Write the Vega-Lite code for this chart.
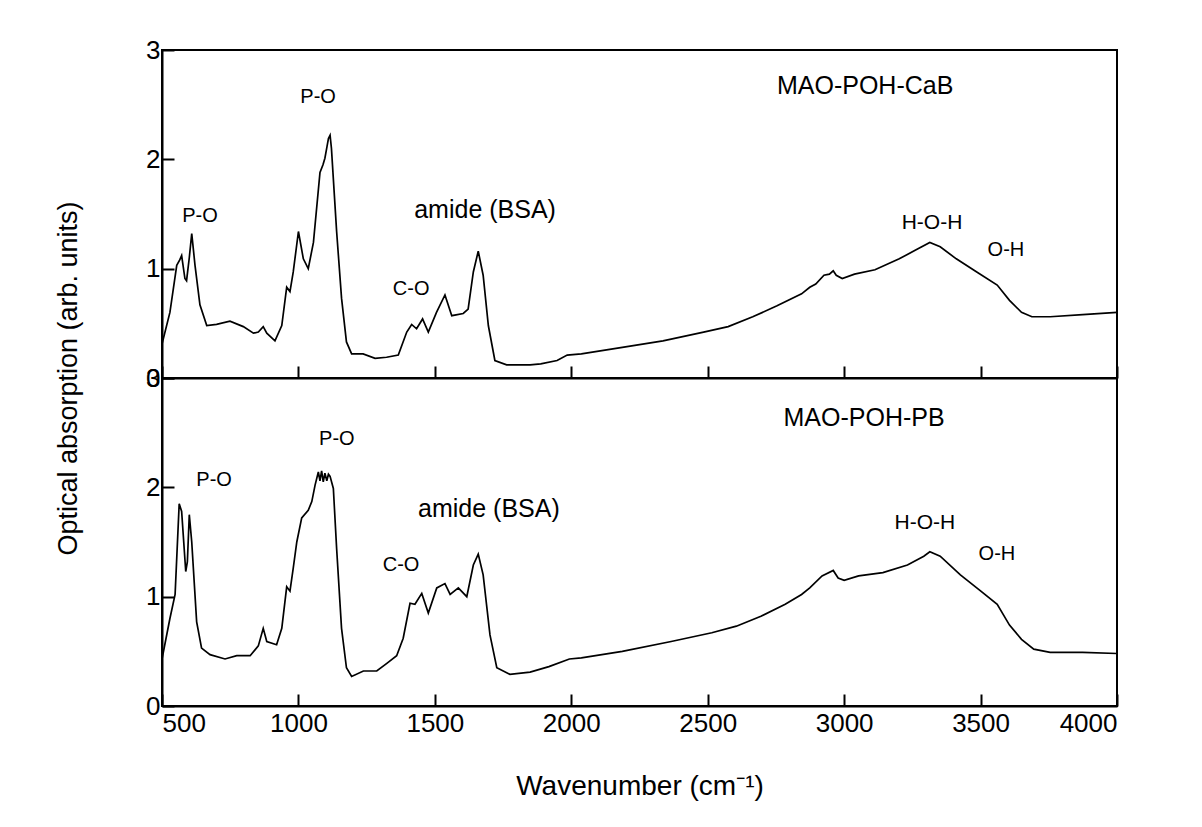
{
  "$schema": "https://vega.github.io/schema/vega-lite/v6.json",
  "background": "white",
  "padding": {"left": 53, "top": 36, "right": 10, "bottom": 10},
  "spacing": 0,
  "bounds": "flush",
  "config": {
    "font": "Liberation Sans",
    "view": {"stroke": "black", "strokeWidth": 2},
    "axis": {
      "grid": false,
      "domainColor": "black",
      "domainWidth": 2,
      "tickColor": "black",
      "tickWidth": 2,
      "tickSize": -12,
      "labelFont": "Liberation Sans",
      "labelFontSize": 26,
      "labelColor": "black",
      "titleFont": "Liberation Sans",
      "titleColor": "black",
      "titleFontWeight": "normal"
    }
  },
  "datasets": {
    "cab": [
      {"x": 500, "y": 0.31}, {"x": 529, "y": 0.6}, {"x": 554, "y": 1.03}, {"x": 565, "y": 1.08}, {"x": 572, "y": 1.12},
      {"x": 584, "y": 0.91}, {"x": 590, "y": 0.89}, {"x": 600, "y": 1.1}, {"x": 609, "y": 1.32}, {"x": 621, "y": 1.03},
      {"x": 639, "y": 0.67}, {"x": 664, "y": 0.48}, {"x": 700, "y": 0.49}, {"x": 749, "y": 0.52}, {"x": 798, "y": 0.47},
      {"x": 835, "y": 0.41}, {"x": 853, "y": 0.42}, {"x": 871, "y": 0.47}, {"x": 884, "y": 0.41}, {"x": 914, "y": 0.34},
      {"x": 939, "y": 0.48}, {"x": 957, "y": 0.83}, {"x": 969, "y": 0.79}, {"x": 981, "y": 0.97}, {"x": 1000, "y": 1.34},
      {"x": 1018, "y": 1.09}, {"x": 1036, "y": 1.0}, {"x": 1055, "y": 1.24}, {"x": 1079, "y": 1.88}, {"x": 1090, "y": 1.95},
      {"x": 1097, "y": 2.01}, {"x": 1105, "y": 2.12}, {"x": 1110, "y": 2.19}, {"x": 1116, "y": 2.22}, {"x": 1121, "y": 2.1},
      {"x": 1140, "y": 1.34}, {"x": 1158, "y": 0.73}, {"x": 1176, "y": 0.33}, {"x": 1195, "y": 0.22}, {"x": 1237, "y": 0.22},
      {"x": 1281, "y": 0.18}, {"x": 1323, "y": 0.19}, {"x": 1366, "y": 0.21}, {"x": 1397, "y": 0.42}, {"x": 1415, "y": 0.49},
      {"x": 1433, "y": 0.45}, {"x": 1455, "y": 0.54}, {"x": 1476, "y": 0.42}, {"x": 1506, "y": 0.6}, {"x": 1537, "y": 0.76},
      {"x": 1562, "y": 0.57}, {"x": 1604, "y": 0.59}, {"x": 1622, "y": 0.63}, {"x": 1641, "y": 0.97}, {"x": 1659, "y": 1.16},
      {"x": 1677, "y": 0.94}, {"x": 1696, "y": 0.48}, {"x": 1720, "y": 0.16}, {"x": 1763, "y": 0.12}, {"x": 1849, "y": 0.12},
      {"x": 1888, "y": 0.13}, {"x": 1948, "y": 0.16}, {"x": 1985, "y": 0.21}, {"x": 2037, "y": 0.22}, {"x": 2187, "y": 0.28},
      {"x": 2336, "y": 0.34}, {"x": 2485, "y": 0.42}, {"x": 2575, "y": 0.47}, {"x": 2665, "y": 0.56}, {"x": 2754, "y": 0.66},
      {"x": 2844, "y": 0.77}, {"x": 2874, "y": 0.83}, {"x": 2896, "y": 0.86}, {"x": 2926, "y": 0.94}, {"x": 2946, "y": 0.95},
      {"x": 2960, "y": 0.98}, {"x": 2971, "y": 0.94}, {"x": 2993, "y": 0.91}, {"x": 3038, "y": 0.95}, {"x": 3113, "y": 0.99},
      {"x": 3202, "y": 1.09}, {"x": 3262, "y": 1.17}, {"x": 3314, "y": 1.24}, {"x": 3352, "y": 1.2}, {"x": 3411, "y": 1.09},
      {"x": 3486, "y": 0.97}, {"x": 3561, "y": 0.85}, {"x": 3606, "y": 0.71}, {"x": 3650, "y": 0.6}, {"x": 3688, "y": 0.56},
      {"x": 3755, "y": 0.56}, {"x": 3874, "y": 0.58}, {"x": 4000, "y": 0.6}
    ],
    "pb": [
      {"x": 500, "y": 0.43}, {"x": 529, "y": 0.8}, {"x": 548, "y": 1.02}, {"x": 563, "y": 1.85}, {"x": 572, "y": 1.78},
      {"x": 587, "y": 1.23}, {"x": 593, "y": 1.32}, {"x": 600, "y": 1.75}, {"x": 609, "y": 1.5}, {"x": 627, "y": 0.77},
      {"x": 645, "y": 0.53}, {"x": 676, "y": 0.47}, {"x": 731, "y": 0.43}, {"x": 774, "y": 0.46}, {"x": 823, "y": 0.46},
      {"x": 853, "y": 0.55}, {"x": 871, "y": 0.71}, {"x": 884, "y": 0.59}, {"x": 920, "y": 0.56}, {"x": 939, "y": 0.71},
      {"x": 957, "y": 1.09}, {"x": 969, "y": 1.05}, {"x": 981, "y": 1.26}, {"x": 994, "y": 1.5}, {"x": 1012, "y": 1.72},
      {"x": 1036, "y": 1.79}, {"x": 1049, "y": 1.87}, {"x": 1061, "y": 2.02}, {"x": 1073, "y": 2.14}, {"x": 1079, "y": 2.06},
      {"x": 1085, "y": 2.15}, {"x": 1091, "y": 2.05}, {"x": 1097, "y": 2.13}, {"x": 1104, "y": 2.06}, {"x": 1110, "y": 2.12},
      {"x": 1116, "y": 2.1}, {"x": 1128, "y": 1.99}, {"x": 1140, "y": 1.44}, {"x": 1158, "y": 0.71}, {"x": 1176, "y": 0.35},
      {"x": 1195, "y": 0.27}, {"x": 1238, "y": 0.32}, {"x": 1287, "y": 0.32}, {"x": 1324, "y": 0.39}, {"x": 1360, "y": 0.46},
      {"x": 1384, "y": 0.62}, {"x": 1409, "y": 0.94}, {"x": 1427, "y": 0.93}, {"x": 1452, "y": 1.03}, {"x": 1476, "y": 0.85},
      {"x": 1507, "y": 1.08}, {"x": 1537, "y": 1.12}, {"x": 1556, "y": 1.02}, {"x": 1586, "y": 1.08}, {"x": 1617, "y": 1.0},
      {"x": 1641, "y": 1.29}, {"x": 1659, "y": 1.39}, {"x": 1677, "y": 1.2}, {"x": 1702, "y": 0.65}, {"x": 1727, "y": 0.35},
      {"x": 1775, "y": 0.29}, {"x": 1849, "y": 0.31}, {"x": 1918, "y": 0.36}, {"x": 1993, "y": 0.43}, {"x": 2037, "y": 0.44},
      {"x": 2187, "y": 0.5}, {"x": 2366, "y": 0.59}, {"x": 2515, "y": 0.67}, {"x": 2605, "y": 0.73}, {"x": 2695, "y": 0.82},
      {"x": 2784, "y": 0.93}, {"x": 2844, "y": 1.02}, {"x": 2874, "y": 1.08}, {"x": 2919, "y": 1.19}, {"x": 2960, "y": 1.24},
      {"x": 2978, "y": 1.17}, {"x": 3000, "y": 1.15}, {"x": 3053, "y": 1.19}, {"x": 3142, "y": 1.22}, {"x": 3232, "y": 1.29},
      {"x": 3292, "y": 1.37}, {"x": 3314, "y": 1.41}, {"x": 3352, "y": 1.37}, {"x": 3426, "y": 1.2}, {"x": 3501, "y": 1.05},
      {"x": 3561, "y": 0.93}, {"x": 3606, "y": 0.74}, {"x": 3650, "y": 0.61}, {"x": 3695, "y": 0.52}, {"x": 3755, "y": 0.49},
      {"x": 3874, "y": 0.49}, {"x": 4000, "y": 0.48}
    ],
    "cabLabels": [
      {"x": 639, "y": 1.48, "t": "P-O", "size": 20},
      {"x": 1072, "y": 2.57, "t": "P-O", "size": 20},
      {"x": 1684, "y": 1.54, "t": "amide (BSA)", "size": 25},
      {"x": 1413, "y": 0.81, "t": "C-O", "size": 20},
      {"x": 3322, "y": 1.42, "t": "H-O-H", "size": 21},
      {"x": 3593, "y": 1.17, "t": "O-H", "size": 20},
      {"x": 3077, "y": 2.67, "t": "MAO-POH-CaB", "size": 25}
    ],
    "pbLabels": [
      {"x": 691, "y": 2.07, "t": "P-O", "size": 20},
      {"x": 1141, "y": 2.44, "t": "P-O", "size": 20},
      {"x": 1698, "y": 1.8, "t": "amide (BSA)", "size": 25},
      {"x": 1376, "y": 1.29, "t": "C-O", "size": 20},
      {"x": 3296, "y": 1.67, "t": "H-O-H", "size": 21},
      {"x": 3560, "y": 1.39, "t": "O-H", "size": 20},
      {"x": 3073, "y": 2.63, "t": "MAO-POH-PB", "size": 25}
    ]
  },
  "vconcat": [
    {
      "width": 955,
      "height": 328,
      "layer": [
        {
          "data": {"name": "cab"},
          "mark": {"type": "line", "color": "black", "strokeWidth": 1.7, "clip": true},
          "encoding": {
            "x": {"field": "x", "type": "quantitative", "scale": {"domain": [500, 4000], "nice": false},
                  "axis": {"values": [500, 1000, 1500, 2000, 2500, 3000, 3500, 4000], "labels": false, "title": null}},
            "y": {"field": "y", "type": "quantitative", "scale": {"domain": [0, 3], "nice": false},
                  "axis": {"values": [0, 1, 2, 3], "format": "d", "labelFontSize": 26, "labelPadding": 14, "title": "Optical absorption (arb. units)",
                           "titleFontSize": 27, "titleY": 328, "titleX": -80, "titleAngle": -90, "titleBaseline": "bottom", "titleAlign": "center"}}
          }
        },
        {
          "data": {"name": "cabLabels"},
          "mark": {"type": "text", "color": "black", "font": "Liberation Sans", "align": "center", "baseline": "middle"},
          "encoding": {
            "x": {"field": "x", "type": "quantitative"},
            "y": {"field": "y", "type": "quantitative"},
            "text": {"field": "t"},
            "size": {"field": "size", "type": "quantitative", "scale": null}
          }
        }
      ]
    },
    {
      "width": 955,
      "height": 328,
      "layer": [
        {
          "data": {"name": "pb"},
          "mark": {"type": "line", "color": "black", "strokeWidth": 1.7, "clip": true},
          "encoding": {
            "x": {"field": "x", "type": "quantitative", "scale": {"domain": [500, 4000], "nice": false},
                  "axis": {"values": [500, 1000, 1500, 2000, 2500, 3000, 3500, 4000], "format": "d", "labelFontSize": 26, "labelPadding": 16,
                           "title": "Wavenumber (cm⁻¹)", "titleFontSize": 28, "titlePadding": 36}},
            "y": {"field": "y", "type": "quantitative", "scale": {"domain": [0, 3], "nice": false},
                  "axis": {"values": [0, 1, 2, 3], "format": "d", "labelFontSize": 26, "labelPadding": 14, "title": null}}
          }
        },
        {
          "data": {"name": "pbLabels"},
          "mark": {"type": "text", "color": "black", "font": "Liberation Sans", "align": "center", "baseline": "middle"},
          "encoding": {
            "x": {"field": "x", "type": "quantitative"},
            "y": {"field": "y", "type": "quantitative"},
            "text": {"field": "t"},
            "size": {"field": "size", "type": "quantitative", "scale": null}
          }
        }
      ]
    }
  ]
}
